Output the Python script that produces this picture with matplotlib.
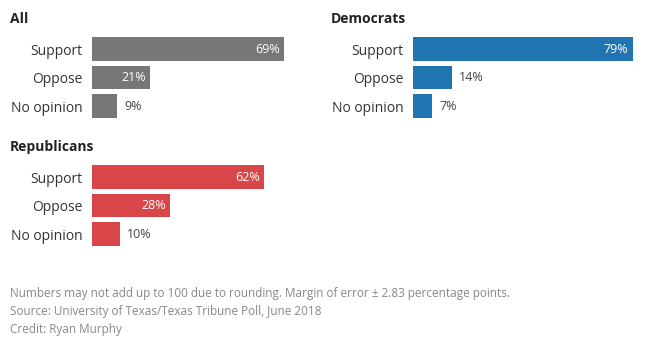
import matplotlib.pyplot as plt

plt.rcParams['font.family'] = ['Open Sans', 'DejaVu Sans']

categories = ["Support", "Oppose", "No opinion"]
all_vals = [69, 21, 9]
dem_vals = [79, 14, 7]
rep_vals = [62, 28, 10]

footnotes = [
    "Numbers may not add up to 100 due to rounding. Margin of error \u00b1 2.83 percentage points.",
    "Source: University of Texas/Texas Tribune Poll, June 2018",
    "Credit: Ryan Murphy",
]

W, H = 650, 350
fig = plt.figure(figsize=(6.5, 3.5), dpi=100)


def panel(left, top, title, vals, color):
    # pixel coordinates -> figure fractions
    row = 28.5
    ax = fig.add_axes([left / W, 1 - (top + 3 * row) / H, 278 / W, 3 * row / H])
    ax.barh(range(3), vals, height=0.84, color=color)
    ax.set_xlim(0, 100)
    ax.set_ylim(2.5, -0.5)
    ax.set_yticks(range(3))
    ax.set_yticklabels(categories, fontsize=10, color="#333333")
    ax.tick_params(axis="y", length=0, pad=7)
    ax.set_xticks([])
    for s in ax.spines.values():
        s.set_visible(False)
    for i, v in enumerate(vals):
        if v >= 20:
            ax.text(v - 1.5, i, f"{v}%", ha="right", va="center", color="white", fontsize=9)
        else:
            ax.text(v + 2.5, i, f"{v}%", ha="left", va="center", color="#444444", fontsize=9)
    fig.text((left - 82) / W, 1 - (top - 16) / H, title, fontsize=10, fontweight="bold",
             color="#222222", va="center", ha="left")


panel(92, 34.75, "All", all_vals, "#777777")
panel(413, 34.75, "Democrats", dem_vals, "#1f74b1")
panel(92, 162.75, "Republicans", rep_vals, "#d8464a")

for i, line in enumerate(footnotes):
    fig.text(10 / W, 1 - (294 + 17.5 * i) / H, line, fontsize=8.5, color="#888888",
             va="center", ha="left")

fig.savefig("out.png", dpi=100, facecolor="white")
